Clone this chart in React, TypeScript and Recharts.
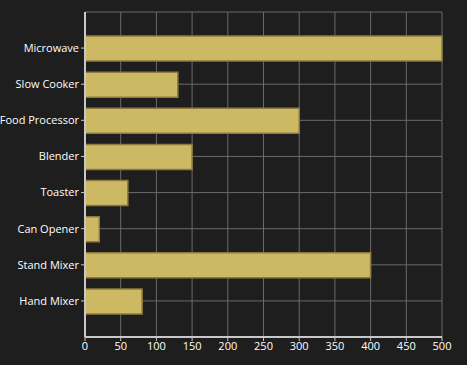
import { Bar, BarChart, CartesianGrid, XAxis, YAxis } from "recharts";

const appliances = [
  "Microwave",
  "Slow Cooker",
  "Food Processor",
  "Blender",
  "Toaster",
  "Can Opener",
  "Stand Mixer",
  "Hand Mixer",
];
const counts = [500, 130, 300, 150, 60, 20, 400, 80];
const xTicks = [0, 50, 100, 150, 200, 250, 300, 350, 400, 450, 500];
const xMinorTicks = [25, 75, 125, 175, 225, 275, 325, 375, 425, 475];

const data = appliances.map((name, i) => ({ name, value: counts[i] }));

const AXIS = "#c8c8c8";
const GRID = "#6a6a6a";
const TEXT = "#ffffff";

// plain text tick so long names never wrap
function CategoryTick({ x, y, payload }: any) {
  return (
    <text x={x} y={y} dy="0.35em" textAnchor="end" fill={TEXT} fontSize={11}>
      {payload.value}
    </text>
  );
}

export default function App() {
  return (
    <div style={{ position: "absolute", left: 0, top: 0, width: 467, height: 365, background: "#1e1e1e" }}>
      <BarChart
        width={467}
        height={365}
        data={data}
        layout="vertical"
        margin={{ top: 12, right: 25, bottom: 0, left: 0 }}
        style={{ fontFamily: "'Open Sans', sans-serif" }}
      >
        <CartesianGrid stroke={GRID} strokeWidth={1} xAxisId="main" />
        <XAxis
          xAxisId="main"
          type="number"
          domain={[0, 500]}
          ticks={xTicks}
          interval={0}
          height={28}
          tick={{ fill: TEXT, fontSize: 11 }}
          tickSize={4}
          tickMargin={1}
          tickLine={{ stroke: AXIS }}
          axisLine={{ stroke: AXIS, strokeWidth: 2 }}
        />
        {/* minor ticks only, drawn inside the plot */}
        <XAxis
          xAxisId="minor"
          type="number"
          domain={[0, 500]}
          ticks={xMinorTicks}
          interval={0}
          height={0}
          mirror
          tick={false}
          tickSize={2}
          tickLine={{ stroke: AXIS }}
          axisLine={false}
        />
        <YAxis
          type="category"
          dataKey="name"
          width={85}
          padding={{ top: 18, bottom: 18 }}
          interval={0}
          tick={<CategoryTick />}
          tickSize={4}
          tickMargin={2}
          tickLine={{ stroke: AXIS }}
          axisLine={{ stroke: AXIS, strokeWidth: 2 }}
        />
        <Bar
          xAxisId="main"
          dataKey="value"
          fill="#cdb964"
          stroke="#8c7b3c"
          strokeWidth={1.5}
          barSize={25}
          isAnimationActive={false}
        />
      </BarChart>
    </div>
  );
}
